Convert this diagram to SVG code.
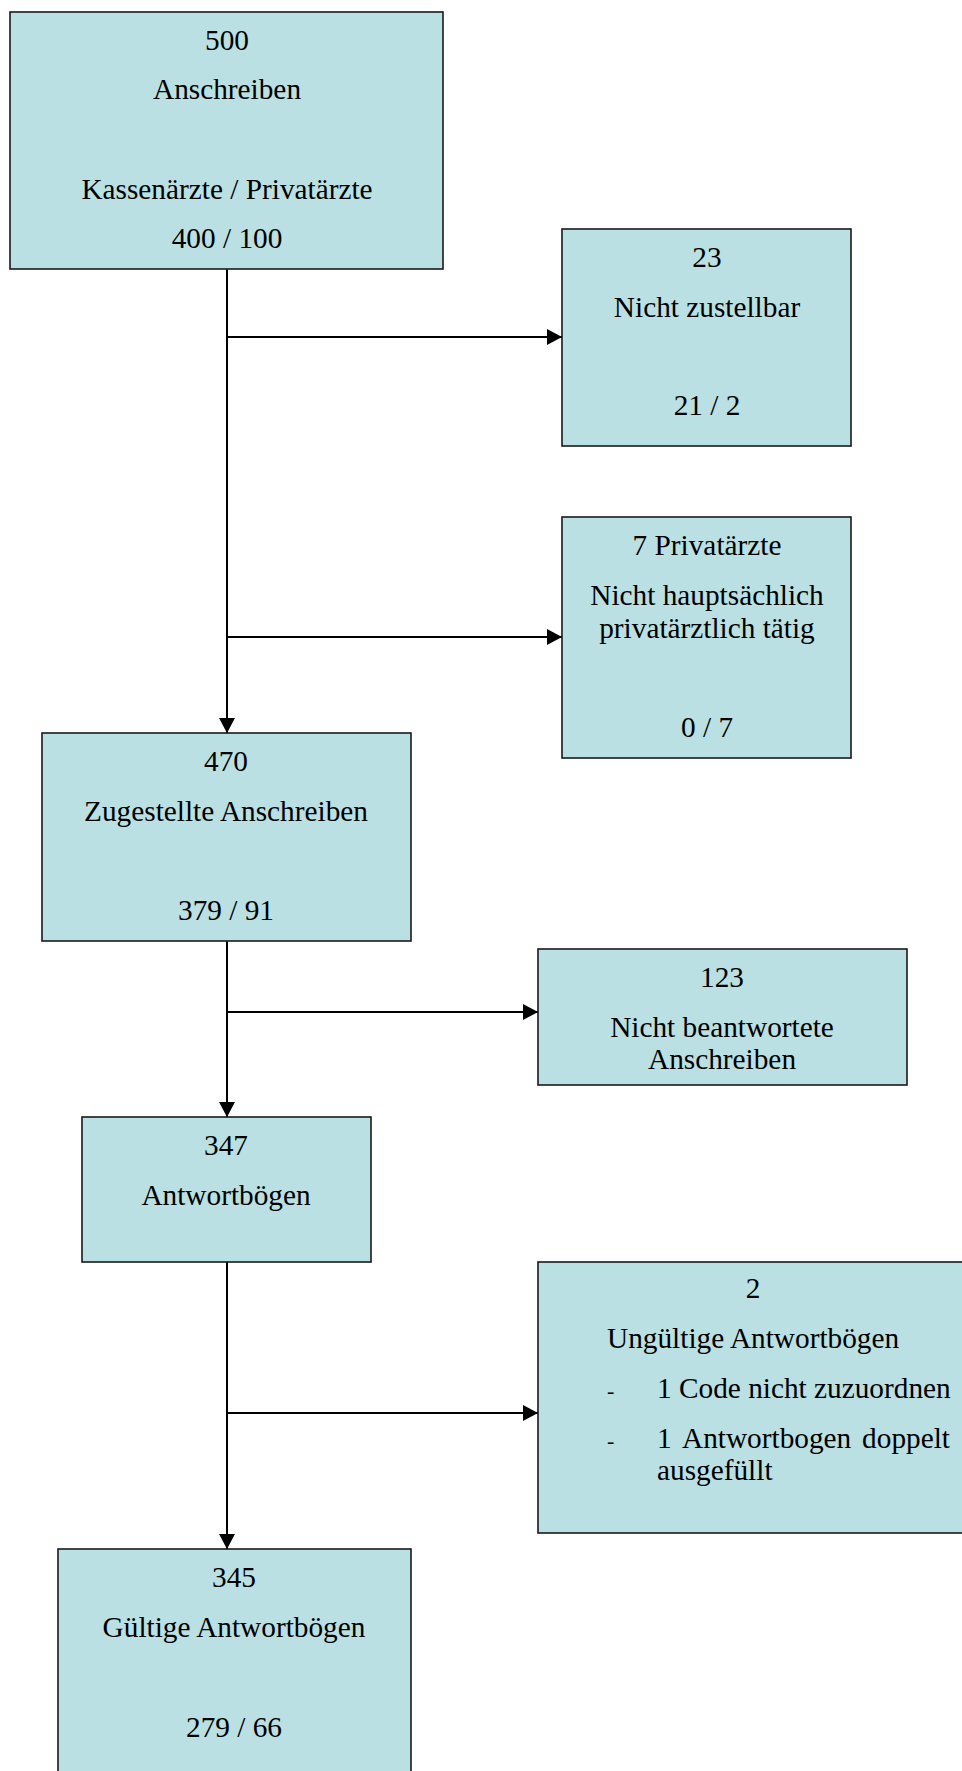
<svg xmlns="http://www.w3.org/2000/svg" width="962" height="1771" viewBox="0 0 962 1771">
<style>
.box{fill:#bae0e3;stroke:#1a1a1a;stroke-width:1.6}
text{font-family:"Liberation Serif","Times New Roman",serif;font-size:29.3px;fill:#000}
.c{text-anchor:middle}
.d{font-size:22px}
.ln{stroke:#000;stroke-width:2;fill:none}
</style>
<defs>
<marker id="ah" viewBox="0 0 15 16" refX="15" refY="8" markerWidth="15" markerHeight="16" markerUnits="userSpaceOnUse" orient="auto">
<path d="M0,0 L15,8 L0,16 Z" fill="#000"/>
</marker>
</defs>
<rect width="962" height="1771" fill="#fff"/>
<g id="connectors">
<line class="ln" x1="227" y1="269" x2="227" y2="733" marker-end="url(#ah)"/>
<line class="ln" x1="227" y1="337" x2="562" y2="337" marker-end="url(#ah)"/>
<line class="ln" x1="227" y1="637" x2="562" y2="637" marker-end="url(#ah)"/>
<line class="ln" x1="227" y1="941" x2="227" y2="1117" marker-end="url(#ah)"/>
<line class="ln" x1="227" y1="1012" x2="538" y2="1012" marker-end="url(#ah)"/>
<line class="ln" x1="227" y1="1262" x2="227" y2="1549" marker-end="url(#ah)"/>
<line class="ln" x1="227" y1="1413" x2="538" y2="1413" marker-end="url(#ah)"/>
</g>
<g id="n500">
<rect class="box" x="10" y="12" width="433" height="257"/>
<text class="c" x="227" y="50">500</text>
<text class="c" x="227" y="99">Anschreiben</text>
<text class="c" x="227" y="199">Kassenärzte / Privatärzte</text>
<text class="c" x="227" y="248">400 / 100</text>
</g>
<g id="n23">
<rect class="box" x="562" y="229" width="289" height="217"/>
<text class="c" x="707" y="267">23</text>
<text class="c" x="707" y="317">Nicht zustellbar</text>
<text class="c" x="707" y="415">21 / 2</text>
</g>
<g id="n7">
<rect class="box" x="562" y="517" width="289" height="241"/>
<text class="c" x="707" y="555">7 Privatärzte</text>
<text class="c" x="707" y="605">Nicht hauptsächlich</text>
<text class="c" x="707" y="638">privatärztlich tätig</text>
<text class="c" x="707" y="737">0 / 7</text>
</g>
<g id="n470">
<rect class="box" x="42" y="733" width="369" height="208"/>
<text class="c" x="226" y="771">470</text>
<text class="c" x="226" y="821">Zugestellte Anschreiben</text>
<text class="c" x="226" y="920">379 / 91</text>
</g>
<g id="n123">
<rect class="box" x="538" y="949" width="369" height="136"/>
<text class="c" x="722" y="987">123</text>
<text class="c" x="722" y="1037">Nicht beantwortete</text>
<text class="c" x="722" y="1069">Anschreiben</text>
</g>
<g id="n347">
<rect class="box" x="82" y="1117" width="289" height="145"/>
<text class="c" x="226" y="1155">347</text>
<text class="c" x="226" y="1205">Antwortbögen</text>
</g>
<g id="n2">
<rect class="box" x="538" y="1262" width="440" height="271"/>
<text class="c" x="753" y="1298">2</text>
<text x="607" y="1348">Ungültige Antwortbögen</text>
<text class="d" x="607" y="1398">-</text>
<text x="657" y="1398">1 Code nicht zuzuordnen</text>
<text class="d" x="607" y="1448">-</text>
<text x="657" y="1448">1</text>
<text x="682" y="1448">Antwortbogen</text>
<text x="950" y="1448" text-anchor="end">doppelt</text>
<text x="657" y="1480">ausgefüllt</text>
</g>
<g id="n345">
<rect class="box" x="58" y="1549" width="353" height="240"/>
<text class="c" x="234" y="1587">345</text>
<text class="c" x="234" y="1637">Gültige Antwortbögen</text>
<text class="c" x="234" y="1737">279 / 66</text>
</g>
</svg>
